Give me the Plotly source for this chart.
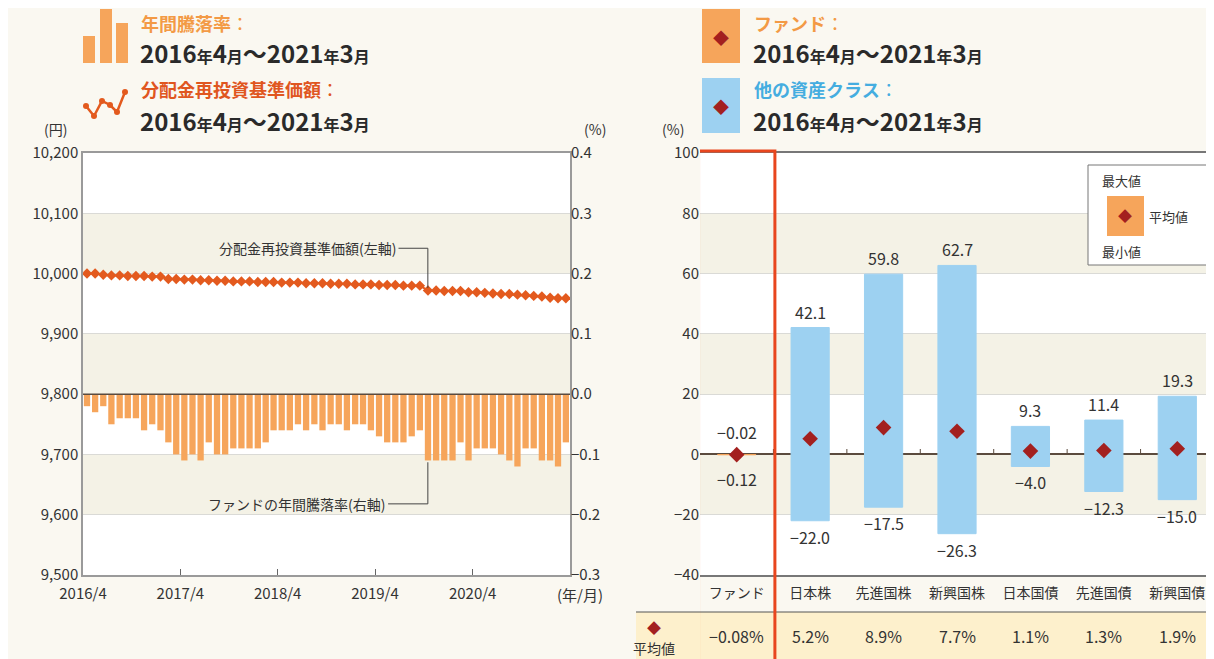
import plotly.graph_objects as go
import pandas as pd

# ---------------- data ----------------
months = pd.date_range("2016-04-01", periods=60, freq="MS")
year_ticks = ["2016-04-01", "2017-04-01", "2018-04-01", "2019-04-01", "2020-04-01"]
year_tick_labels = ["2016/4", "2017/4", "2018/4", "2019/4", "2020/4"]

annual_return = [-0.02, -0.03, -0.02, -0.05, -0.04, -0.04, -0.04, -0.06, -0.05, -0.06,
                 -0.08, -0.10, -0.11, -0.10, -0.11, -0.08, -0.10, -0.10, -0.09, -0.09,
                 -0.09, -0.09, -0.08, -0.06, -0.06, -0.06, -0.05, -0.06, -0.05, -0.06,
                 -0.05, -0.05, -0.06, -0.05, -0.05, -0.06, -0.07, -0.08, -0.08, -0.08,
                 -0.07, -0.06, -0.11, -0.11, -0.11, -0.11, -0.08, -0.11, -0.09, -0.09,
                 -0.09, -0.10, -0.11, -0.12, -0.09, -0.09, -0.11, -0.11, -0.12, -0.08]

nav = [10000, 10000, 9998, 9997, 9997, 9996, 9996, 9996, 9995, 9995,
       9991, 9991, 9990, 9990, 9989, 9989, 9988, 9988, 9987, 9987,
       9987, 9986, 9986, 9986, 9985, 9985, 9985, 9984, 9984, 9984,
       9983, 9983, 9983, 9982, 9982, 9982, 9981, 9981, 9981, 9980, 9980, 9980,
       9972, 9972, 9971, 9971, 9971, 9969, 9969, 9968, 9967, 9966, 9966, 9965,
       9964, 9963, 9962, 9960, 9959, 9959]

asset_classes = ["ファンド", "日本株", "先進国株", "新興国株", "日本国債", "先進国債", "新興国債"]
max_vals = [-0.02, 42.1, 59.8, 62.7, 9.3, 11.4, 19.3]
min_vals = [-0.12, -22.0, -17.5, -26.3, -4.0, -12.3, -15.0]
avg_vals = [-0.08, 5.2, 8.9, 7.7, 1.1, 1.3, 1.9]

# ---------------- style ----------------
# the page body has an 8px margin, so the figure is sized to fill the rest of the window
OFF = 8
W, H = 1214 - OFF, 659 - OFF
def px(x): return (x - OFF) / W
def py(y): return 1 - (y - OFF) / H

FONT = "Noto Sans CJK JP"
BG = "#FAF8F1"
BAND = "#F4F2E6"
GRID = "#DADAD6"
FRAME = "#9A9A9A"
TXT = "#333333"
ORANGE = "#F6A55B"
LINEC = "#E35A1E"
BLUE = "#9DD1F1"
DIAM = "#A3201F"
RED = "#E8461E"
ZERO = "#5B4B3E"

def fmt(v, d):
    s = f"{v:.{d}f}"
    return s.replace("-", "−")

fig = go.Figure()

# left chart: bars (right axis) and NAV line (left axis)
fig.add_trace(go.Bar(x=months, y=annual_return, xperiod="M1", xperiodalignment="middle",
                     marker=dict(color=ORANGE, line=dict(width=0)), xaxis="x", yaxis="y2",
                     showlegend=False))
fig.add_trace(go.Scatter(x=months, y=nav, xperiod="M1", xperiodalignment="middle",
                         mode="lines+markers", line=dict(color=LINEC, width=2),
                         marker=dict(symbol="diamond", size=8, color=LINEC),
                         xaxis="x", yaxis="y", showlegend=False))

# right chart: floating range bars
bar_colors = [ORANGE] + [BLUE] * (len(asset_classes) - 1)
fig.add_trace(go.Bar(x=asset_classes, y=[mx - mn for mx, mn in zip(max_vals, min_vals)],
                     base=min_vals, width=0.52,
                     marker=dict(color=bar_colors, line=dict(color=bar_colors, width=1)),
                     xaxis="x2", yaxis="y3", showlegend=False))
fig.add_trace(go.Scatter(x=asset_classes, y=avg_vals, mode="markers",
                         marker=dict(symbol="diamond", size=12, color=DIAM),
                         xaxis="x2", yaxis="y3", showlegend=False))

shapes = []
# bands left
for lo, hi in [(10000, 10100), (9800, 9900), (9600, 9700)]:
    shapes.append(dict(type="rect", xref="x domain", yref="y", x0=0, x1=1, y0=lo, y1=hi,
                       fillcolor=BAND, line=dict(width=0), layer="below"))
# bands right
for lo, hi in [(60, 80), (20, 40), (-20, 0)]:
    shapes.append(dict(type="rect", xref="x2 domain", yref="y3", x0=0, x1=1, y0=lo, y1=hi,
                       fillcolor=BAND, line=dict(width=0), layer="below"))
# zero line (left chart)
shapes.append(dict(type="line", xref="x domain", yref="y2", x0=0, x1=1, y0=0, y1=0,
                   line=dict(color=ZERO, width=1.5)))
# small ticks on the zero line at category boundaries
for i in range(len(asset_classes) - 1):
    shapes.append(dict(type="line", xref="x2", yref="y3", x0=i + 0.5, x1=i + 0.5, y0=0, y1=1.8,
                       line=dict(color=ZERO, width=1), layer="below"))
# leader lines
shapes.append(dict(type="line", xref="x", yref="y", x0="2019-06-28", x1="2019-10-16",
                   y0=10042, y1=10042, line=dict(color="#444", width=1)))
shapes.append(dict(type="line", xref="x", yref="y", x0="2019-10-16", x1="2019-10-16",
                   y0=10042, y1=9976, line=dict(color="#444", width=1)))
shapes.append(dict(type="line", xref="x", yref="y2", x0="2019-05-20", x1="2019-10-16",
                   y0=-0.182, y1=-0.182, line=dict(color="#444", width=1)))
shapes.append(dict(type="line", xref="x", yref="y2", x0="2019-10-16", x1="2019-10-16",
                   y0=-0.182, y1=-0.113, line=dict(color="#444", width=1)))
# average table row
shapes.append(dict(type="rect", xref="paper", yref="paper", x0=px(636), x1=1.0,
                   y0=0, y1=py(612), fillcolor="#FDF0CC", line=dict(width=0)))
shapes.append(dict(type="line", xref="paper", yref="paper", x0=px(636), x1=1.0,
                   y0=py(612), y1=py(612), line=dict(color="#555", width=1.2)))
# legend box in right chart
shapes.append(dict(type="rect", xref="paper", yref="paper", x0=px(1088), x1=px(1210),
                   y0=py(265), y1=py(165), fillcolor="white", line=dict(color="#777", width=1)))
shapes.append(dict(type="rect", xref="paper", yref="paper", x0=px(1107), x1=px(1144),
                   y0=py(236), y1=py(196), fillcolor=ORANGE, line=dict(width=0)))
# header icons
for x0, x1, y0 in [(83, 95, 36), (100, 112, 9), (116, 128, 23)]:
    shapes.append(dict(type="rect", xref="paper", yref="paper", x0=px(x0), x1=px(x1),
                       y0=py(63), y1=py(y0), fillcolor=ORANGE, line=dict(width=0)))
icon_pts = [(86, 106), (94, 116), (102, 101), (110, 105), (117, 112), (125, 92)]
path = "M " + " L ".join(f"{px(x)},{py(y)}" for x, y in icon_pts)
shapes.append(dict(type="path", xref="paper", yref="paper", path=path,
                   line=dict(color=LINEC, width=2.5)))
for x, y in icon_pts:
    shapes.append(dict(type="circle", xref="paper", yref="paper", x0=px(x - 3), x1=px(x + 3),
                       y0=py(y + 3), y1=py(y - 3), fillcolor=LINEC, line=dict(width=0)))
shapes.append(dict(type="rect", xref="paper", yref="paper", x0=px(702), x1=px(740),
                   y0=py(63), y1=py(9), fillcolor=ORANGE, line=dict(width=0)))
shapes.append(dict(type="rect", xref="paper", yref="paper", x0=px(702), x1=px(740),
                   y0=py(133), y1=py(78), fillcolor=BLUE, line=dict(width=0)))
# red highlight around the fund column
shapes.append(dict(type="rect", xref="x2", yref="paper", x0=-0.52, x1=0.52,
                   y0=-0.02, y1=py(151), line=dict(color=RED, width=3),
                   fillcolor="rgba(0,0,0,0)"))

ann = []
def A(x, y, text, size=14, color=TXT, xanchor="left", yanchor="middle", xref="paper", yref="paper",
      yshift=0):
    ann.append(dict(x=x, y=y, xref=xref, yref=yref, text=text, showarrow=False,
                    xanchor=xanchor, yanchor=yanchor, yshift=yshift,
                    font=dict(family=FONT, size=size, color=color)))

# max / min labels of the range bars
for i, cat in enumerate(asset_classes):
    d = 2 if i == 0 else 1
    A(cat, max_vals[i], fmt(max_vals[i], d), 16, TXT, "center", "bottom", "x2", "y3",
      8 if i == 0 else 2)
    A(cat, min_vals[i], fmt(min_vals[i], d), 16, TXT, "center", "top", "x2", "y3",
      -10 if i == 0 else -2)

small = "<span style='font-size:16px'>{}</span>"
date_txt = ("<b>2016" + small.format("年") + "4" + small.format("月") + "～2021"
            + small.format("年") + "3" + small.format("月") + "</b>")

A(px(139), py(8), "<b>年間騰落率</b>：", 18, "#F39A45", "left", "top")
A(px(138), py(52), date_txt, 24, "#2A2A2A")
A(px(139), py(89), "<b>分配金再投資基準価額</b>：", 18, "#E0561F")
A(px(138), py(120), date_txt, 24, "#2A2A2A")
A(px(752), py(8), "<b>ファンド</b>：", 18, "#F39A45", "left", "top")
A(px(751), py(52), date_txt, 24, "#2A2A2A")
A(px(752), py(89), "<b>他の資産クラス</b>：", 18, "#45ADE0")
A(px(751), py(120), date_txt, 24, "#2A2A2A")
A(px(721), py(37), "◆", 16, DIAM, "center")
A(px(721), py(106), "◆", 16, DIAM, "center")

# axis unit labels
A(px(55), py(129), "(円)", 14, TXT, "center")
A(px(595), py(129), "(%)", 14, TXT, "center")
A(px(673), py(129), "(%)", 14, TXT, "center")
A(px(580), py(594), "(年/月)", 15, TXT, "center")

# in-chart callouts
A("2019-06-25", 10042, "分配金再投資基準価額(左軸)", 14, TXT, "right", "middle", "x", "y")
A("2019-05-17", -0.182, "ファンドの年間騰落率(右軸)", 14, TXT, "right", "middle", "x", "y2")

# legend box texts
A(px(1100), py(180), "最大値", 13, TXT, "left")
A(px(1100), py(251), "最小値", 13, TXT, "left")
A(px(1147), py(216), "平均値", 13, TXT, "left")
A(px(1125), py(215), "◆", 14, DIAM, "center")

# average row
A(px(654), py(627), "◆", 14, DIAM, "center")
A(px(654), py(648), "平均値", 14, TXT, "center")
for i, v in enumerate(avg_vals):
    A(asset_classes[i], py(636), fmt(v, 2 if i == 0 else 1) + "%", 16, TXT, "center", "middle",
      "x2", "paper")

fig.update_layout(
    width=W, height=H, margin=dict(l=0, r=0, t=0, b=0, pad=0, autoexpand=False),
    autosize=False,
    paper_bgcolor=BG, plot_bgcolor="white",
    font=dict(family=FONT, size=15, color=TXT),
    bargap=0.2, showlegend=False,
    shapes=shapes, annotations=ann,
    xaxis=dict(domain=[px(83), px(570)], anchor="y", type="date", automargin=False,
               range=["2016-04-01", "2021-04-01"], tickvals=year_ticks, ticktext=year_tick_labels,
               ticks="inside", ticklen=6, tickcolor="#666", showgrid=False, showline=True,
               linecolor=FRAME, linewidth=1.5, mirror=True, zeroline=False,
               ticklabelstandoff=4,
               tickfont=dict(family=FONT, size=15, color=TXT)),
    yaxis=dict(domain=[py(575), py(153)], anchor="x", range=[9500, 10200], dtick=100,
               automargin=False,
               tickformat=",d", showgrid=True, gridcolor=GRID, showline=True, linecolor=FRAME,
               linewidth=1.5, mirror=True, zeroline=False, ticks="",
               tickfont=dict(family=FONT, size=15, color=TXT)),
    yaxis2=dict(overlaying="y", side="right", anchor="x", range=[-0.3, 0.4], dtick=0.1,
                automargin=False,
                tickformat=".1f", showgrid=False, zeroline=False, showline=False, ticks="",
                tickfont=dict(family=FONT, size=15, color=TXT)),
    xaxis2=dict(domain=[px(700), 1.0], anchor="y3", type="category", automargin=False,
                categoryorder="array", categoryarray=asset_classes, range=[-0.5, 6.5],
                showgrid=False, showline=True, linecolor="#777", linewidth=1.5, mirror=True,
                ticks="", zeroline=False, ticklabelstandoff=4,
                tickfont=dict(family=FONT, size=14, color=TXT)),
    yaxis3=dict(domain=[py(575), py(153)], anchor="x2", range=[-40, 100], dtick=20,
                automargin=False,
                showgrid=True, gridcolor=GRID, zeroline=True, zerolinecolor=ZERO,
                zerolinewidth=1.5, showline=False, ticks="",
                tickfont=dict(family=FONT, size=15, color=TXT)),
)

fig.write_html("out.html", config={"displayModeBar": False})
